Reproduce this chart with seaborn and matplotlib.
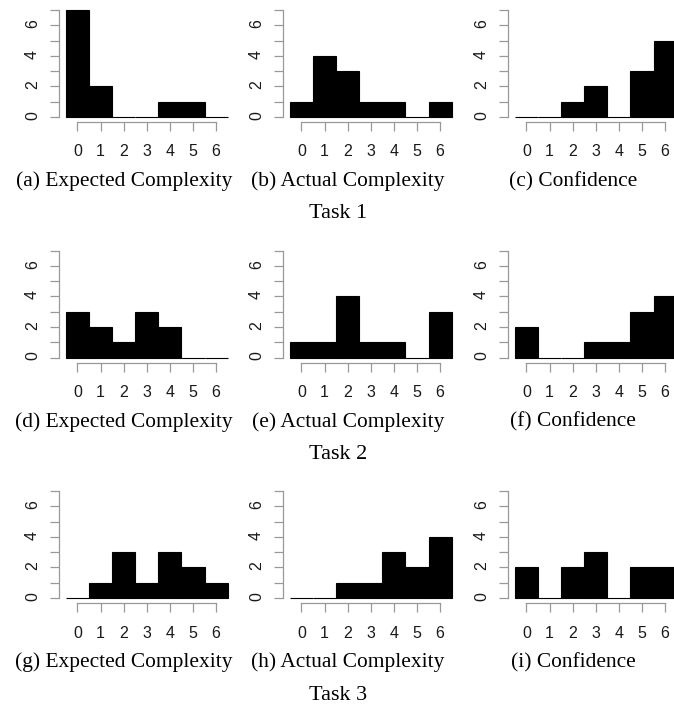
import matplotlib.pyplot as plt
import seaborn as sns

# score values on the x axis
scores = [0, 1, 2, 3, 4, 5, 6]

# number of answers per score, one list per panel
t1_expected = [7, 2, 0, 0, 1, 1, 0]
t1_actual = [1, 4, 3, 1, 1, 0, 1]
t1_confidence = [0, 0, 1, 2, 0, 3, 5]
t2_expected = [3, 2, 1, 3, 2, 0, 0]
t2_actual = [1, 1, 4, 1, 1, 0, 3]
t2_confidence = [2, 0, 0, 1, 1, 3, 4]
t3_expected = [0, 1, 3, 1, 3, 2, 1]
t3_actual = [0, 0, 1, 1, 3, 2, 4]
t3_confidence = [2, 0, 2, 3, 0, 2, 2]

captions = ['Expected Complexity', 'Actual Complexity', 'Confidence']
letters = 'abcdefghi'
tasks = ['Task 1', 'Task 2', 'Task 3']
y_ticks = [0, 1, 2, 3, 4, 5, 6, 7]
y_ticklabels = ['0', '', '2', '', '4', '', '6', '']

panels = [
    [t1_expected, t1_actual, t1_confidence],
    [t2_expected, t2_actual, t2_confidence],
    [t3_expected, t3_actual, t3_confidence],
]

sns.set_style('white')
plt.rcParams['font.family'] = ['Liberation Sans', 'DejaVu Sans']

W, H = 674, 704
fig = plt.figure(figsize=(W / 100, H / 100), dpi=100)

unit = 23.1           # pixels per score unit
col_left = [59, 283, 508]
row_step = 240.5
axis_grey = '#999999'

for r in range(3):
    base = 117 + row_step * r
    for c in range(3):
        left = col_left[c]
        width = 7.3 * unit
        ax = fig.add_axes([left / W, (H - base) / H, width / W, 107 / H])
        sns.histplot(x=scores, weights=panels[r][c], discrete=True,
                     color='black', edgecolor='black', linewidth=0.8,
                     alpha=1, ax=ax)
        for p in ax.patches:
            p.set_clip_on(False)
        ax.set_xlim(-0.8, 6.5)
        ax.set_ylim(0, 7)
        ax.set_xlabel('')
        ax.set_ylabel('')
        ax.set_xticks(scores)
        ax.set_yticks(y_ticks)
        ax.set_yticklabels(y_ticklabels)
        ax.spines['top'].set_visible(False)
        ax.spines['right'].set_visible(False)
        ax.spines['left'].set_bounds(0, 7)
        ax.spines['bottom'].set_bounds(0, 6)
        ax.spines['bottom'].set_position(('outward', 3.6))
        for s in ['left', 'bottom']:
            ax.spines[s].set_color(axis_grey)
            ax.spines[s].set_linewidth(0.9)
        ax.tick_params(axis='both', bottom=True, left=True, length=6.2,
                       width=0.9, color=axis_grey, labelcolor='#1a1a1a',
                       labelsize=11.5)
        ax.tick_params(axis='x', pad=10)
        ax.tick_params(axis='y', pad=7.5, labelrotation=90)
        ax.set_facecolor('none')

        fig.text((left + 65) / W, 1 - (186 + row_step * r) / H,
                 '(%s) %s' % (letters[r * 3 + c], captions[c]),
                 ha='center', va='baseline', family='Liberation Serif',
                 fontsize=15.4, color='black')
    fig.text(338 / W, 1 - (218.5 + row_step * r) / H, tasks[r],
             ha='center', va='baseline', family='Liberation Serif',
             fontsize=16, color='black')

plt.savefig('out.png', dpi=100)
